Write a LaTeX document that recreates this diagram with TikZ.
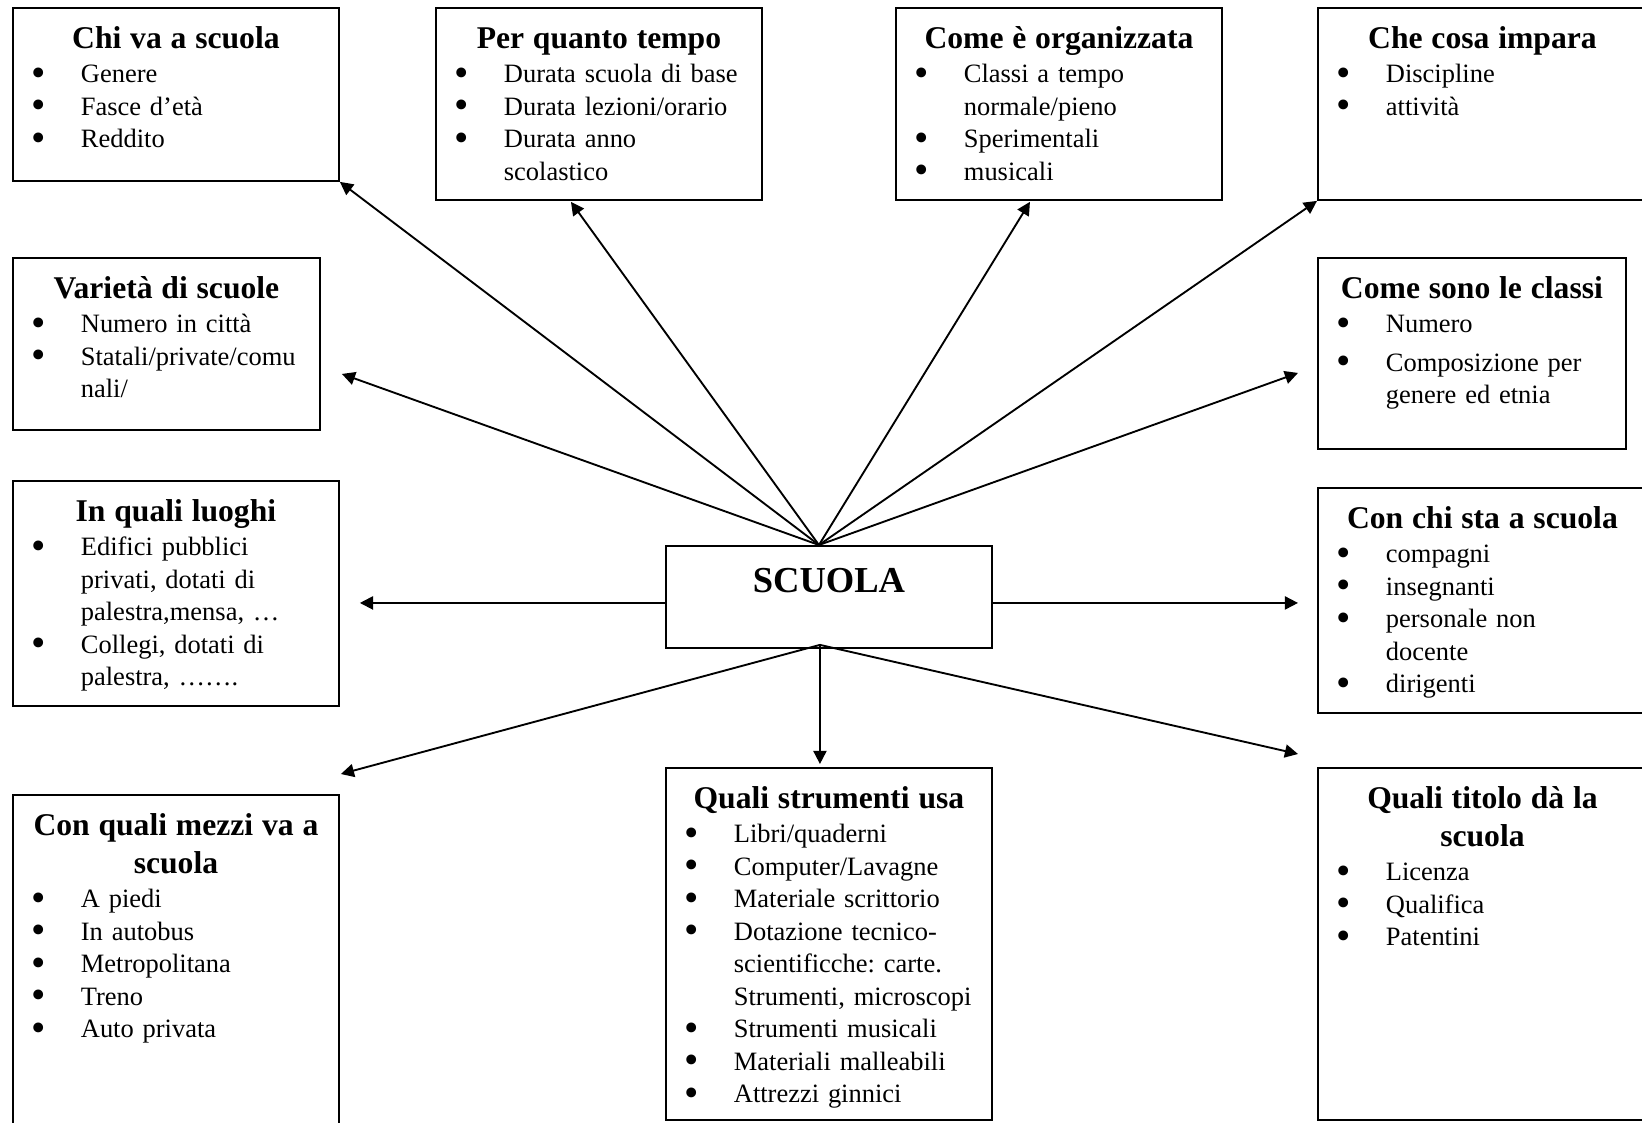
\documentclass[tikz,border=0pt]{standalone}
\usepackage{fontspec}
\usepackage{graphicx}
\setmainfont{Liberation Serif}
\usetikzlibrary{arrows.meta, positioning, calc}
\frenchspacing

\newcommand{\punto}{\smash{\raisebox{-1.4pt}{\scalebox{1.55}{\textbullet}}}}
\newcommand{\voce}[1]{\par\noindent\hangindent=29pt\hangafter=1%
  \makebox[29pt][l]{\makebox[22.2pt]{\punto}}#1\par}
\newcommand{\titolo}[1]{{\centering\fontsize{13.5}{16.2}\selectfont\bfseries #1\par}\vspace{0.6pt}}

\begin{document}
\begin{tikzpicture}[
        x=0.015cm, y=-0.015cm,
        topic/.style={rectangle, draw, line width=0.8pt, anchor=north west, inner sep=0pt, align=left, text height=0.615cm, font=\fontsize{11.3}{13.87}\selectfont},
        link/.style={line width=0.8pt, -{Triangle[length=5.6pt, width=5.6pt]}}
    ]
        \useasboundingbox (0,0) rectangle (1642,1122);

        \node[topic, text width=4.89cm, text depth=1.98cm] (chi) at (12,7) {\titolo{Chi va a scuola}\voce{Genere}\voce{Fasce d’età}\voce{Reddito}};
        \node[topic, text width=4.89cm, text depth=2.265cm] (tempo) at (435,7) {\titolo{Per quanto tempo}\voce{Durata scuola di base}\voce{Durata lezioni/orario}\voce{Durata anno\newline scolastico}};
        \node[topic, text width=4.89cm, text depth=2.265cm] (organizzata) at (895,7) {\titolo{Come è organizzata}\voce{Classi a tempo\newline normale/pieno}\voce{Sperimentali}\voce{musicali}};
        \node[topic, text width=4.935cm, text depth=2.265cm] (impara) at (1317,7) {\titolo{Che cosa impara}\voce{Discipline}\voce{attività}};

        \node[topic, text width=4.605cm, text depth=1.965cm] (varieta) at (12,257) {\titolo{Varietà di scuole}\voce{Numero in città}\voce{Statali/private/comu\newline nali/}};
        \node[topic, text width=4.62cm, text depth=2.25cm] (classi) at (1317,257) {\titolo{Come sono le classi}\voce{Numero}\vspace{2.6pt}\voce{Composizione per\newline genere ed etnia}};

        \node[topic, text width=4.89cm, text depth=2.76cm] (luoghi) at (12,480) {\titolo{In quali luoghi}\voce{Edifici pubblici\newline privati, dotati di\newline palestra,mensa, …}\voce{Collegi, dotati di\newline palestra, …….}};
        \node[topic, align=center, text width=4.89cm, text height=0.705cm, text depth=0.825cm, font=\fontsize{15.6}{18}\selectfont\bfseries] (scuola) at (665,545) {SCUOLA};
        \node[topic, text width=4.935cm, text depth=2.76cm] (conchi) at (1317,487) {\titolo{Con chi sta a scuola}\voce{compagni}\voce{insegnanti}\voce{personale non\newline docente}\voce{dirigenti}};

        \node[topic, text width=4.89cm, text depth=4.575cm] (mezzi) at (12,794) {\titolo{Con quali mezzi va a\par scuola}\voce{A piedi}\voce{In autobus}\voce{Metropolitana}\voce{Treno}\voce{Auto privata}};
        \node[topic, text width=4.89cm, text depth=4.665cm] (strumenti) at (665,767) {\titolo{Quali strumenti usa}\voce{Libri/quaderni}\voce{Computer/Lavagne}\voce{Materiale scrittorio}\voce{Dotazione tecnico-\newline scientificche: carte.\newline Strumenti, microscopi}\voce{Strumenti musicali}\voce{Materiali malleabili}\voce{Attrezzi ginnici}};
        \node[topic, text width=4.935cm, text depth=4.665cm] (titolo) at (1317,767) {\titolo{Quali titolo dà la\par scuola}\voce{Licenza}\voce{Qualifica}\voce{Patentini}};

        \coordinate (sopra) at ($(scuola.north)+(-10,0)$);
        \coordinate (sotto) at ($(scuola.south)+(-9,-4)$);

        \draw[link] (sopra) -- (chi.south east);
        \draw[link] (sopra) -- ($(tempo.south)+(-28,1)$);
        \draw[link] (sopra) -- ($(organizzata.south)+(-29,1)$);
        \draw[link] (sopra) -- (impara.south west);
        \draw[link] (sopra) -- ($(varieta.east)+(21,30)$);
        \draw[link] (sopra) -- ($(classi.west)+(-19,19.5)$);
        \draw[link] ($(scuola.west)+(0,6)$) -- ($(luoghi.east)+(20,9.5)$);
        \draw[link] ($(scuola.east)+(0,6)$) -- ($(conchi.west)+(-19,2.5)$);
        \draw[link] (sotto) -- ($(mezzi.north east)+(1,-20)$);
        \draw[link] (sotto) -- ($(strumenti.north)+(-9,-3)$);
        \draw[link] (sotto) -- ($(titolo.north west)+(-19,-13)$);
    \end{tikzpicture}
\end{document}
